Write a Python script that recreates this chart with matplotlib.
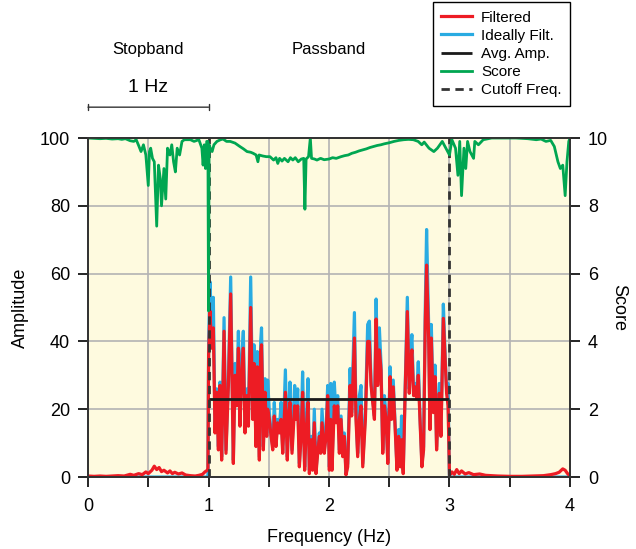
import matplotlib.pyplot as plt
import numpy as np

plt.rcParams['font.family'] = ['Liberation Sans', 'DejaVu Sans']

# colours used in the figure
c_filt = '#ed1c24'
c_ideal = '#29abe2'
c_score = '#00a651'

# lower stopband (filter leakage), Hz / amplitude
stop_lo_freq = [0.00, 0.05, 0.10, 0.15, 0.20, 0.25, 0.30, 0.35, 0.38, 0.42, 0.45, 0.48, 0.50,
                0.53, 0.55, 0.57, 0.59, 0.61, 0.63, 0.66, 0.68, 0.70, 0.72, 0.75, 0.78, 0.81,
                0.85, 0.89, 0.92, 0.95, 0.97, 0.99, 0.995]
stop_lo_amp = [0.3, 0.2, 0.3, 0.2, 0.3, 0.4, 0.3, 0.8, 0.5, 1.0, 0.7, 1.5, 1.0,
               2.0, 3.2, 2.2, 2.8, 1.6, 2.0, 1.2, 1.8, 1.0, 1.4, 0.9, 1.2, 0.6,
               0.4, 0.3, 0.5, 0.8, 1.5, 2.0, 2.5]

# passband
pass_freq = [1.001, 1.012, 1.026, 1.040, 1.054, 1.068, 1.082, 1.095, 1.109, 1.129, 1.145, 1.165,
             1.184, 1.206, 1.220, 1.234, 1.248, 1.261, 1.275, 1.289, 1.303, 1.317, 1.331, 1.350,
             1.367, 1.378, 1.394, 1.405, 1.422, 1.433, 1.440, 1.447, 1.455, 1.469, 1.483, 1.491,
             1.505, 1.519, 1.533, 1.546, 1.560, 1.574, 1.588, 1.602, 1.616, 1.638, 1.654, 1.665,
             1.676, 1.693, 1.715, 1.726, 1.740, 1.754, 1.768, 1.781, 1.798, 1.809, 1.826, 1.837,
             1.853, 1.864, 1.878, 1.892, 1.906, 1.920, 1.931, 1.942, 1.961, 1.975, 1.989, 2.003,
             2.014, 2.025, 2.044, 2.058, 2.072, 2.086, 2.100, 2.114, 2.127, 2.141, 2.155, 2.175,
             2.188, 2.211, 2.224, 2.238, 2.252, 2.266, 2.280, 2.302, 2.321, 2.335, 2.349, 2.357,
             2.377, 2.391, 2.404, 2.418, 2.432, 2.446, 2.460, 2.474, 2.488, 2.507, 2.519, 2.533,
             2.547, 2.564, 2.578, 2.591, 2.602, 2.616, 2.633, 2.650, 2.666, 2.677, 2.688, 2.702,
             2.716, 2.727, 2.741, 2.755, 2.771, 2.785, 2.799, 2.810, 2.827, 2.838, 2.849, 2.866,
             2.880, 2.893, 2.904, 2.915, 2.929, 2.949, 2.965, 2.976, 2.988, 2.999]
pass_filtered = [36, 49, 38, 44, 13, 25, 8, 27, 5, 43, 7, 27,
                 54, 4, 30, 21, 38, 15, 30, 38, 13, 24, 15, 50,
                 17, 33.5, 9, 32.5, 5, 37, 39, 27, 8, 25, 12, 20,
                 17, 12, 8, 18, 9, 16, 13, 17, 7, 25, 5, 18,
                 22, 7, 21, 17, 21, 3, 12, 25, 2, 13, 22, 1,
                 11, 2, 16, 1, 7, 12, 7, 16, 7, 12, 24, 2,
                 17, 2, 21, 16, 21, 7, 17, 6, 12, 0.6, 3, 27,
                 18, 41, 17, 6, 17, 21, 3, 17, 40, 40, 27, 24,
                 17, 46.6, 27, 37.5, 31.5, 7, 21, 17, 4, 29.6, 17, 26.6,
                 16, 2, 12, 3, 11, 1, 26.6, 48.8, 24.7, 33.5, 37.5, 24,
                 26.6, 23, 30, 17, 3, 8, 46, 62.5, 41, 14, 41, 19,
                 29.6, 8, 17, 24.7, 12, 46.8, 33.5, 24.7, 21, 1]
pass_ideal = [40, 57.6, 45, 53, 14, 26, 9, 28, 6, 47, 8, 29,
              59, 5, 33.5, 23, 43, 16, 34.5, 43, 14, 26, 16, 59,
              18, 39, 10, 37, 6, 40, 44, 29, 9, 29, 13, 28.6,
              19, 13, 9, 22, 10, 17, 14, 22, 8, 31.6, 6, 19,
              28, 8, 27, 18, 26, 4, 13, 31, 3, 14, 29, 2,
              12, 3, 20, 2, 8, 13, 8, 20, 8, 13, 27, 3,
              27.6, 3, 28, 18, 24, 8, 18, 7, 13, 1, 4, 32,
              19, 48.5, 19, 7, 24, 27, 4, 19, 45, 46, 28, 25,
              18, 52.5, 29, 44, 33, 8, 24, 18, 5, 32.5, 18, 28.6,
              17, 3, 14, 4, 18, 2, 28, 53, 26, 37.5, 42, 25,
              27.6, 24, 34, 18, 4, 9, 50, 73, 45, 15, 45, 20,
              33, 9, 18, 27.6, 13, 51, 35, 26, 27.6, 0]

# upper stopband
stop_hi_freq = [3.000, 3.02, 3.04, 3.06, 3.08, 3.10, 3.13, 3.16, 3.20, 3.25, 3.30, 3.35, 3.40,
                3.50, 3.60, 3.70, 3.78, 3.84, 3.88, 3.91, 3.94, 3.96, 3.98, 4.00]
stop_hi_amp = [0.5, 1.5, 0.8, 2.2, 1.0, 1.8, 0.9, 1.3, 0.7, 0.9, 0.5, 0.4, 0.3,
               0.2, 0.2, 0.3, 0.4, 0.7, 1.0, 1.4, 2.4, 2.0, 1.0, 0.3]

# score (right axis)
score_freq = [0.00, 0.05, 0.10, 0.15, 0.20, 0.25, 0.28, 0.31, 0.35, 0.38, 0.40, 0.42, 0.44,
              0.46, 0.48, 0.50, 0.51, 0.52, 0.535, 0.55, 0.57, 0.585, 0.60, 0.61, 0.63, 0.645,
              0.66, 0.68, 0.695, 0.71, 0.725, 0.74, 0.76, 0.78, 0.80, 0.85, 0.88, 0.92, 0.945,
              0.955, 0.965, 0.975, 0.985, 0.995, 1.000, 1.005, 1.015, 1.03, 1.045, 1.07, 1.10,
              1.12, 1.15, 1.18, 1.22, 1.26, 1.29, 1.32, 1.35, 1.37, 1.395, 1.41, 1.42, 1.45,
              1.48, 1.51, 1.54, 1.56, 1.575, 1.59, 1.61, 1.63, 1.66, 1.68, 1.70, 1.72, 1.745,
              1.77, 1.79, 1.80, 1.81, 1.83, 1.845, 1.855, 1.88, 1.90, 1.93, 1.96, 2.00, 2.03,
              2.06, 2.10, 2.13, 2.16, 2.19, 2.22, 2.25, 2.28, 2.31, 2.34, 2.37, 2.40, 2.43,
              2.46, 2.50, 2.54, 2.58, 2.62, 2.66, 2.70, 2.74, 2.77, 2.79, 2.83, 2.87, 2.90,
              2.94, 2.97, 3.00, 3.02, 3.05, 3.07, 3.085, 3.10, 3.12, 3.135, 3.15, 3.17, 3.20,
              3.21, 3.24, 3.28, 3.35, 3.45, 3.55, 3.65, 3.72, 3.76, 3.80, 3.84, 3.87, 3.90,
              3.92, 3.94, 3.96, 3.975, 3.99, 4.00]
score = [10.0, 9.99, 9.98, 9.99, 9.97, 9.98, 9.96, 9.98, 9.92, 9.90, 9.95, 9.78, 9.6,
         9.8, 9.5, 8.6, 9.6, 9.7, 9.4, 9.3, 7.4, 9.2, 8.8, 8.0, 9.1, 8.2,
         9.7, 9.5, 9.8, 9.3, 9.0, 9.7, 9.5, 9.9, 9.95, 9.95, 9.9, 9.95, 9.7,
         9.2, 9.8, 9.1, 9.9, 9.9, 4.9, 9.8, 9.7, 9.6, 9.8, 9.9, 9.95,
         9.97, 9.9, 9.9, 9.85, 9.75, 9.68, 9.6, 9.58, 9.55, 9.5, 9.3, 9.5, 9.47,
         9.45, 9.45, 9.35, 9.42, 9.25, 9.4, 9.32, 9.4, 9.3, 9.42, 9.35, 9.42, 9.3,
         9.38, 9.4, 7.9, 9.38, 9.45, 10.0, 9.4, 9.38, 9.35, 9.4, 9.36, 9.38, 9.42,
         9.4, 9.45, 9.48, 9.5, 9.55, 9.58, 9.62, 9.65, 9.68, 9.72, 9.75, 9.78, 9.8,
         9.83, 9.86, 9.9, 9.93, 9.95, 9.96, 9.95, 9.9, 9.8, 9.88, 9.7, 9.6, 9.7,
         9.9, 9.7, 9.5, 9.95, 9.7, 8.9, 9.9, 8.3, 9.7, 9.1, 9.9, 9.6, 9.4,
         9.9, 9.8, 9.95, 10.0, 10.0, 10.0, 9.98, 9.95, 9.97, 9.9, 9.93, 9.75, 9.3,
         9.1, 9.2, 8.3, 9.3, 9.9, 10.0]

avg_amp = 23.0
cutoffs = [1.0, 3.0]

x_ticks = [0, 0.5, 1, 1.5, 2, 2.5, 3, 3.5, 4]
x_ticklabels = ['0', '', '1', '', '2', '', '3', '', '4']
amp_ticks = [0, 20, 40, 60, 80, 100]
score_ticks = [0, 2, 4, 6, 8, 10]

freq = stop_lo_freq + pass_freq + stop_hi_freq
filtered = stop_lo_amp + pass_filtered + stop_hi_amp
ideal = [0] * len(stop_lo_freq) + pass_ideal + [0] * len(stop_hi_freq)

fig, ax = plt.subplots(figsize=(6.36, 5.49), dpi=100)
fig.subplots_adjust(left=0.1384, right=0.8962, bottom=0.1311, top=0.7486)

ax.set_facecolor('#fefadf')
ax.set_axisbelow(True)
ax.grid(True, color='#b3b3b3', lw=1.2)

h_ideal, = ax.plot(freq, ideal, color=c_ideal, lw=2.3, label='Ideally Filt.')
h_filt, = ax.plot(freq, filtered, color=c_filt, lw=2.3, label='Filtered')
h_avg = ax.hlines(avg_amp, cutoffs[0], cutoffs[1], color='#1a1a1a', lw=2.0, label='Avg. Amp.')
for c in cutoffs:
    h_cut = ax.axvline(c, color='#333333', lw=2.0, ls=(0, (3, 2)), label='Cutoff Freq.')

ax.set_xlim(0, 4)
ax.set_ylim(0, 100)
ax.set_xticks(x_ticks)
ax.set_xticklabels(x_ticklabels)
ax.set_yticks(amp_ticks)
ax.tick_params(axis='x', direction='out', length=7, width=1.2, pad=8, labelsize=13)
ax.tick_params(axis='y', direction='out', length=7, width=1.2, pad=6, labelsize=13)
ax.set_xlabel('Frequency (Hz)', fontsize=13, labelpad=10)
ax.set_ylabel('Amplitude', fontsize=13, labelpad=8)

ax2 = ax.twinx()
h_score, = ax2.plot(score_freq, score, color=c_score, lw=2.0, label='Score')
ax2.set_ylim(0, 10)
ax2.set_yticks(score_ticks)
ax2.tick_params(axis='y', direction='out', length=7, width=1.2, pad=6, labelsize=13)
ax2.set_ylabel('Score', fontsize=13, rotation=270, labelpad=14)

for a in (ax, ax2):
    for s in a.spines.values():
        s.set_linewidth(1.3)
        s.set_color('#333333')

# band annotations above the plot
tr = ax.get_xaxis_transform()
ax.text(0.5, 1.26, 'Stopband', transform=tr, ha='center', va='center', fontsize=12)
ax.text(2.0, 1.26, 'Passband', transform=tr, ha='center', va='center', fontsize=12)
ax.text(0.5, 1.15, '1 Hz', transform=tr, ha='center', va='center', fontsize=14)
ax.annotate('', xy=(0, 1.091), xytext=(1, 1.091), xycoords=tr, textcoords=tr,
            arrowprops=dict(arrowstyle='|-|, widthA=0.2, widthB=0.2', lw=1.0, color='#333333',
                            shrinkA=0, shrinkB=0), annotation_clip=False)

leg = fig.legend([h_filt, h_ideal, h_avg, h_score, h_cut],
                 ['Filtered', 'Ideally Filt.', 'Avg. Amp.', 'Score', 'Cutoff Freq.'],
                 loc='upper right', bbox_to_anchor=(0.896, 0.996), borderaxespad=0,
                 fontsize=11, fancybox=False, edgecolor='black', framealpha=1,
                 handlelength=2.0, handletextpad=0.6, labelspacing=0.27, borderpad=0.55)
leg.get_frame().set_linewidth(1.0)

plt.savefig('out.png')
